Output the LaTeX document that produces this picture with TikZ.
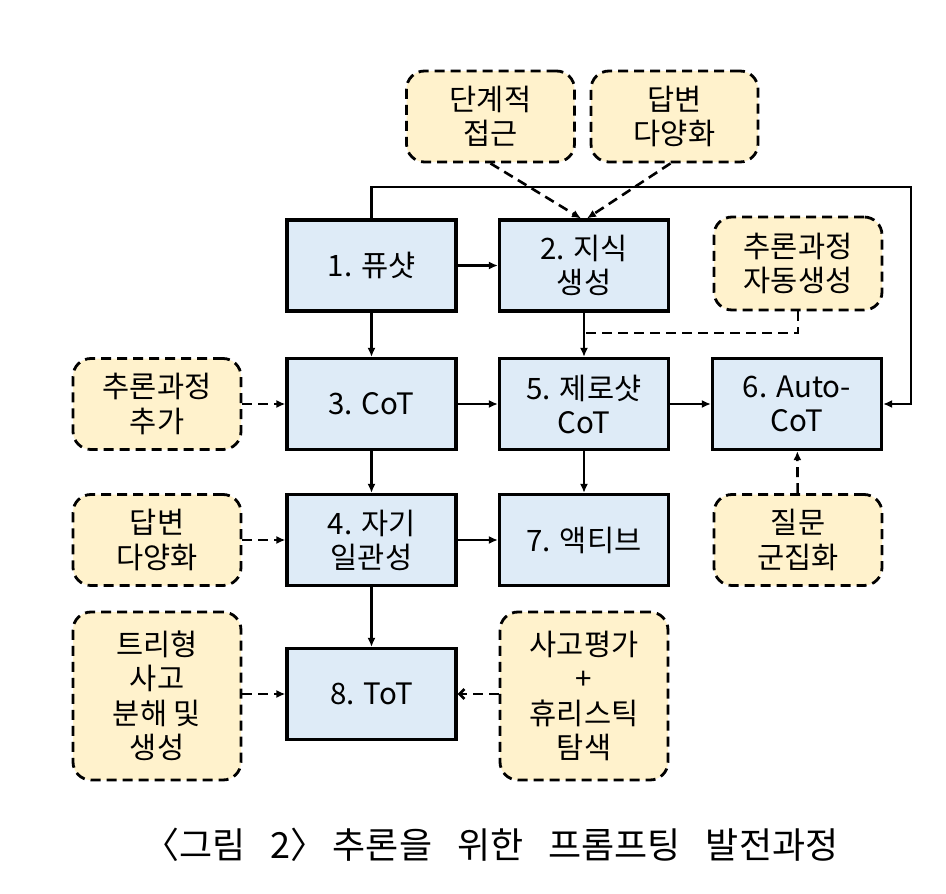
\documentclass[tikz,border=0pt]{standalone}
\usepackage{fontspec}
\setmainfont{Noto Sans CJK KR}
\usetikzlibrary{arrows.meta}
\definecolor{boxblue}{HTML}{DEEBF7}
\definecolor{boxyellow}{HTML}{FFF2CC}
\begin{document}
\begin{tikzpicture}[x=1pt,y=-1pt,
  mainbox/.style={draw=black, line width=3.2pt, fill=boxblue, minimum width=169pt, minimum height=91pt, align=center, font=\fontsize{29.5}{34}\selectfont, inner sep=0pt},
  ideabox/.style={draw=black, line width=2.8pt, dash pattern=on 10pt off 6pt, rounded corners=18pt, fill=boxyellow, minimum width=168pt, minimum height=91pt, align=center, font=\fontsize{29.5}{34.5}\selectfont, inner sep=0pt},
  conn/.style={line width=2.4pt, -{Latex[length=9pt,width=8pt]}},
  dconn/.style={line width=2.6pt, dash pattern=on 10pt off 6pt, -{Latex[length=9pt,width=8pt]}},
  oconn/.style={line width=2.6pt, dash pattern=on 10pt off 6pt, -{Straight Barb[length=5pt,width=10pt,line width=2.6pt]}}
]
\useasboundingbox (0,0) rectangle (946,894);
\fill[white] (0,0) rectangle (946,894);

% main boxes
\node[mainbox] (b1) at (371.5,265.5) {1. 퓨샷};
\node[mainbox] (b2) at (584,265.5) {2. 지식\\생성};
\node[mainbox] (b3) at (371.5,404) {3. CoT};
\node[mainbox] (b5) at (584,404) {5. 제로샷\\CoT};
\node[mainbox] (b6) at (797,404) {6. Auto-\\CoT};
\node[mainbox] (b4) at (371.5,540) {4. 자기\\일관성};
\node[mainbox] (b7) at (584,540) {7. 액티브};
\node[mainbox] (b8) at (371.5,694) {8. ToT};

% idea boxes
\node[ideabox] (y1) at (490.5,116.5) {단계적\\접근};
\node[ideabox, minimum width=167pt] (y2) at (674.5,116.5) {답변\\다양화};
\node[ideabox, minimum height=93pt] (y3) at (798,263.5) {추론과정\\자동생성};
\node[ideabox] (y4) at (157,404) {추론과정\\추가};
\node[ideabox] (y5) at (157,540) {답변\\다양화};
\node[ideabox, minimum height=168pt] (y6) at (157,696) {트리형\\사고\\분해 및\\생성};
\node[ideabox, minimum height=168pt] (y7) at (584,696) {사고평가\\+\\휴리스틱\\탐색};
\node[ideabox] (y8) at (798,540) {질문\\군집화};

% solid connectors
\draw[conn] (b1) -- (b2);
\draw[conn] (b1) -- (b3);
\draw[conn] (b3) -- (b4);
\draw[conn] (b4) -- (b8);
\draw[conn] (b3) -- (b5);
\draw[conn] (b4) -- (b7);
\draw[conn] (b5) -- (b6);
\draw[conn] (b2) -- (b5);
\draw[conn] (b5) -- (b7);
\coordinate (fbA) at (371.5,187);
\coordinate (fbB) at (911,187);
\coordinate (fbC) at (911,404);
\draw[conn] (b1.north) -- (fbA) -- (fbB) -- (fbC) -- (b6.east);

% dashed connectors
\draw[dconn] (y1.south) -- ([xshift=-3pt]b2.north);
\draw[dconn] ([xshift=-4pt]y2.south) -- ([xshift=3pt]b2.north);
\coordinate (jn) at (584,333);
\draw[line width=2.6pt, dash pattern=on 10pt off 6pt] (y3.south) |- (jn);
\draw[dconn] (y8) -- (b6);
\draw[dconn] (y4) -- (b3);
\draw[dconn] (y5) -- (b4);
\draw[dconn] (y6.east |- b8) -- (b8);
\draw[oconn] (y7.west |- b8) -- (b8);

% caption
\node[font=\fontsize{36}{42}\selectfont, inner sep=0pt] (cap) at (491,845) {〈그림\hspace{25pt}2〉\hspace{6pt}추론을\hspace{25pt}위한\hspace{25pt}프롬프팅\hspace{25pt}발전과정};
\end{tikzpicture}
\end{document}
